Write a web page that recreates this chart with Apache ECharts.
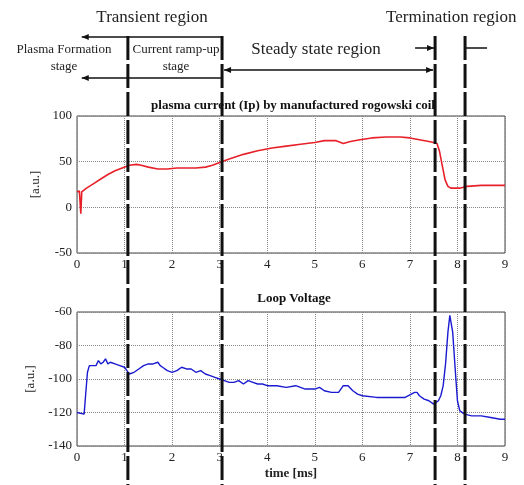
<!DOCTYPE html>
<html>
<head>
<meta charset="utf-8">
<script src="https://cdn.jsdelivr.net/npm/echarts@6/dist/echarts.min.js"></script>
<style>
  html, body { margin: 0; padding: 0; background: #fff; }
  #chart { width: 524px; height: 485px; }
</style>
</head>
<body>
<div id="chart"></div>
<script>
// plasma current (Ip) trace
const ipTime = [
  0, 0.05, 0.08, 0.1, 0.12, 0.2, 0.35, 0.5, 0.65, 0.8,
  0.95, 1.1, 1.25, 1.35, 1.5, 1.7, 1.9, 2.1, 2.3, 2.5,
  2.7, 2.85, 3.0, 3.2, 3.5, 3.8, 4.1, 4.4, 4.7, 5.0,
  5.2, 5.45, 5.6, 5.75, 5.95, 6.2, 6.5, 6.8, 7.0, 7.2,
  7.4, 7.5, 7.57, 7.62, 7.68, 7.74, 7.8, 7.86, 7.95, 8.05,
  8.2, 8.5, 8.8, 9.0
];
const ipValue = [
  17, 18, -7, 17, 19, 21, 26, 31, 36, 40,
  43, 46, 47, 46, 44, 42, 42, 43, 43, 43,
  44, 46, 49, 53, 58, 62, 65, 67, 69, 71,
  73, 73, 70, 72, 74, 76, 77, 77, 76, 74,
  72, 71, 70, 62, 46, 30, 23, 21, 21, 21,
  23, 24, 24, 24
];

// loop voltage trace
const vlTime = [
  0, 0.15, 0.18, 0.22, 0.26, 0.3, 0.4, 0.45, 0.5, 0.55,
  0.6, 0.65, 0.7, 0.8, 0.9, 1.0, 1.05, 1.1, 1.2, 1.3,
  1.4, 1.5, 1.6, 1.7, 1.75, 1.8, 1.9, 2.0, 2.1, 2.2,
  2.3, 2.4, 2.5, 2.6, 2.7, 2.8, 2.9, 3.0, 3.1, 3.2,
  3.3, 3.4, 3.5, 3.6, 3.7, 3.8, 3.9, 4.0, 4.2, 4.4,
  4.6, 4.8, 5.0, 5.1, 5.2, 5.35, 5.5, 5.6, 5.7, 5.8,
  5.9, 6.0, 6.3, 6.6, 6.9, 7.1, 7.15, 7.2, 7.3, 7.4,
  7.5, 7.6, 7.65, 7.7, 7.75, 7.8, 7.84, 7.87, 7.9, 7.95,
  8.0, 8.05, 8.15, 8.3, 8.5, 8.7, 8.9, 9.0
];
const vlValue = [
  -120, -121, -110, -96, -92, -91, -92, -89, -91, -90,
  -88, -91, -90, -91, -92, -93, -95, -97, -96, -94,
  -92, -91, -91, -90, -92, -93, -95, -96, -95, -93,
  -94, -94, -96, -95, -97, -98, -99, -100, -101, -102,
  -102, -101, -103, -101, -102, -103, -103, -104, -104, -105,
  -104, -106, -106, -105, -107, -108, -108, -104, -104, -107,
  -109, -110, -111, -111, -111, -108, -108, -110, -112, -113,
  -115, -113, -110, -104, -91, -72, -62, -63, -72, -93,
  -113, -119, -121, -122, -122, -123, -124, -124
];

// region boundaries (ms)
const boundaryT = [1.07, 3.05, 7.53, 8.16];

const FONT = "Liberation Serif";
const chart = echarts.init(document.getElementById("chart"));

function zip(a, b) {
  return a.map((t, i) => [t, b[i]]);
}

const xCommon = {
  type: "value",
  min: 0,
  max: 9,
  interval: 1,
  axisLine: { show: false },
  axisTick: { show: false },
  axisLabel: { fontFamily: FONT, fontSize: 13, color: "#222", margin: 5 },
  splitLine: { show: true, lineStyle: { type: "dotted", color: "#888" } },
};
const yCommon = {
  type: "value",
  axisLine: { show: false },
  axisTick: { show: false },
  axisLabel: { fontFamily: FONT, fontSize: 13, color: "#222", margin: 5 },
  splitLine: { show: true, lineStyle: { type: "dotted", color: "#888" } },
  name: "[a.u.]",
  nameLocation: "middle",
  nameRotate: 90,
  nameTextStyle: { fontFamily: FONT, fontSize: 13, color: "#222" },
};

chart.setOption({
  animation: false,
  backgroundColor: "#fff",
  title: [
    {
      text: "plasma current (Ip) by manufactured rogowski coil",
      left: 288, top: 94, textAlign: "center",
      textStyle: { fontFamily: FONT, fontSize: 13, fontWeight: "bold", color: "#111" },
    },
    {
      text: "Loop Voltage",
      left: 289, top: 287, textAlign: "center",
      textStyle: { fontFamily: FONT, fontSize: 13, fontWeight: "bold", color: "#111" },
    },
  ],
  grid: [
    { left: 77, top: 116, width: 428, height: 137, show: true, borderColor: "#444", borderWidth: 1 },
    { left: 77, top: 312, width: 428, height: 134, show: true, borderColor: "#444", borderWidth: 1 },
  ],
  xAxis: [
    Object.assign({ gridIndex: 0 }, xCommon),
    Object.assign({ gridIndex: 1 }, xCommon, {
      name: "time [ms]",
      nameLocation: "middle",
      nameGap: 21,
      nameTextStyle: { fontFamily: FONT, fontSize: 13, fontWeight: "bold", color: "#222" },
    }),
  ],
  yAxis: [
    Object.assign({ gridIndex: 0 }, yCommon, { min: -50, max: 100, interval: 50, nameGap: 29 }),
    Object.assign({ gridIndex: 1 }, yCommon, { min: -140, max: -60, interval: 20, nameGap: 33 }),
  ],
  series: [
    {
      type: "line", xAxisIndex: 0, yAxisIndex: 0, showSymbol: false,
      data: zip(ipTime, ipValue),
      lineStyle: { color: "#e8202a", width: 1.6 },
    },
    {
      type: "line", xAxisIndex: 1, yAxisIndex: 1, showSymbol: false,
      data: zip(vlTime, vlValue),
      lineStyle: { color: "#1a1ad0", width: 1.4 },
    },
  ],
});

// annotations: boundaries & arrows, placed through the x scale
const px = (t) => chart.convertToPixel({ xAxisIndex: 0 }, t);
const bx = boundaryT.map(px);
const xLeft = px(0.1);
const ink = "#111";
const g = [];

function seg(x1, y1, x2, y2, w, dash) {
  g.push({
    type: "line", z: 100,
    shape: { x1, y1, x2, y2 },
    style: { stroke: ink, lineWidth: w, lineDash: dash || null },
  });
}
function head(x, y, dir) {
  // dir -1 = points left, 1 = points right
  g.push({
    type: "polygon", z: 100,
    shape: { points: [[x, y], [x - dir * 7, y - 3], [x - dir * 7, y + 3]] },
    style: { fill: ink },
  });
}
function text(str, x, y, size, align) {
  g.push({
    type: "text", z: 100, x, y,
    style: { text: str, fontFamily: FONT, fontSize: size, fill: "#222", align: align || "center", verticalAlign: "middle" },
  });
}

// vertical boundary lines
bx.forEach((x) => seg(x, 36, x, 485, 3, [24, 4]));

// transient region arrow
seg(xLeft, 37, bx[1], 37, 1.5);
head(xLeft, 37, -1);
// lower transient arrow
seg(xLeft, 78, bx[1], 78, 1.5);
head(xLeft, 78, -1);
// steady state arrow
seg(bx[1] + 2, 70, bx[2] - 2, 70, 1.5);
head(bx[1] + 2, 70, -1);
head(bx[2] - 2, 70, 1);
// termination markers
seg(bx[2] - 20, 48, bx[2], 48, 1.5);
head(bx[2] - 1, 48, 1);
seg(bx[3], 48, bx[3] + 22, 48, 1.5);

text("Transient region", 152, 18, 17);
text("Termination region", 386, 18, 17, "left");
text("Steady state region", 316, 50, 17);
text("Plasma Formation", 64, 50, 13);
text("stage", 64, 67, 13);
text("Current ramp-up", 176, 50, 13);
text("stage", 176, 67, 13);

chart.setOption({ graphic: g });
</script>
</body>
</html>
